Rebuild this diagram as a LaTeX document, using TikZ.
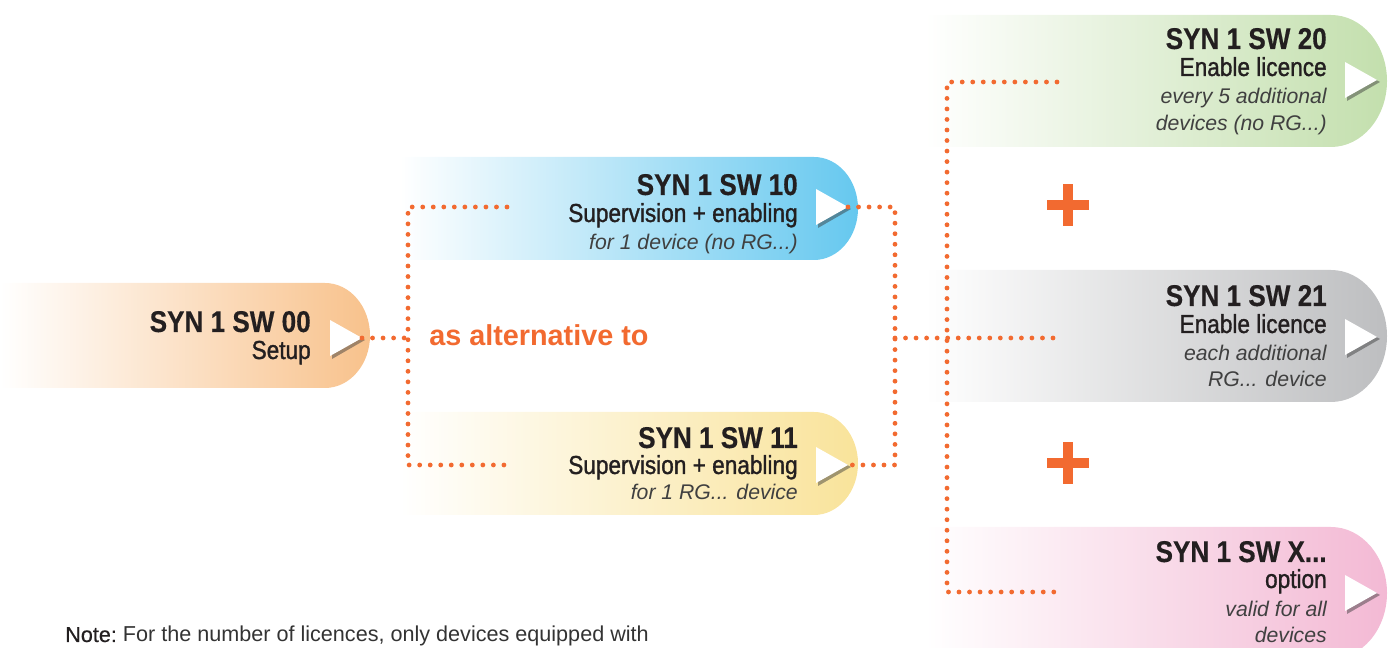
\documentclass[tikz,border=0pt]{standalone}
\usepackage{fontspec}
\setmainfont{Liberation Sans}
\newfontfamily\ttlfont[FakeStretch=0.87,FakeBold=0.4]{Liberation Sans}
\newfontfamily\subfont[FakeStretch=0.87,FakeBold=1.2]{Liberation Sans}
\newfontfamily\notebold[FakeBold=0.5]{Liberation Sans}
\usetikzlibrary{shadows}
\definecolor{ink}{HTML}{231F20}
\definecolor{itink}{HTML}{404040}
\definecolor{noteink}{HTML}{333333}
\definecolor{dotor}{HTML}{F26A30}
\definecolor{cor}{HTML}{F8C28C}
\definecolor{cblue}{HTML}{66C8EF}
\definecolor{cyel}{HTML}{F9E39A}
\definecolor{cgreen}{HTML}{C3DFAD}
\definecolor{cgray}{HTML}{BDBEC0}
\definecolor{cpink}{HTML}{F3B9D4}
\newcommand\mypill[6]{% x0, top, bottom, x1, rx, color
  \shade[left color=white,right color=#6] (#1,#3) -- (#1,#2) -- (#4,#2)
    arc[start angle=90,end angle=-90,x radius=#5,y radius={(#2-#3)/2}] -- cycle;}
\newcommand\mytri[1]{% named tip coordinate
  \fill[trishadow] ([shift={(-30,15)}]#1) -- ([shift={(3,-2)}]#1) -- ([shift={(-30,-21)}]#1) -- cycle;
  \fill[tri] ([shift={(-32,18)}]#1) -- (#1) -- ([shift={(-32,-18)}]#1) -- cycle;}
\begin{document}
\begin{tikzpicture}[x=0.75pt,y=0.75pt,
  ttl/.style={anchor=base east,inner sep=0pt,text=ink,font=\ttlfont\bfseries\fontsize{22.5}{26}\selectfont},
  sub/.style={anchor=base east,inner sep=0pt,text=ink,font=\subfont\fontsize{19.5}{23}\selectfont},
  itl/.style={anchor=base east,inner sep=0pt,text=itink,font=\itshape\fontsize{15.9}{19}\selectfont},
  tri/.style={fill=white},
  trishadow/.style={fill=black!80,opacity=0.45},
  dots/.style={draw=dotor,line width=3.6pt,line cap=round,dash pattern=on 0pt off 7.9pt},
  plusbar/.style={fill=dotor}]
\useasboundingbox (0,0) rectangle (1393,648);
\clip (0,0) rectangle (1393,648);

% boxes
\mypill{0}{365}{260}{325}{45}{cor}
\mypill{400}{491}{388}{814}{44}{cblue}
\mypill{400}{236}{133}{814}{44}{cyel}
\mypill{925}{633}{501}{1331}{56}{cgreen}
\mypill{925}{378}{246}{1331}{56}{cgray}
\mypill{925}{121}{-11}{1331}{56}{cpink}

% triangle tips
\coordinate (t00) at (362,310);
\coordinate (t10) at (848,441);
\coordinate (t11) at (848,183);
\coordinate (t20) at (1377,568);
\coordinate (t21) at (1377,311);
\coordinate (tx)  at (1377,55);
\mytri{t00}
\mytri{t10}
\mytri{t11}
\mytri{t20}
\mytri{t21}
\mytri{tx}

% connector points
\coordinate (la) at (408,441);
\coordinate (lm) at (408,310);
\coordinate (lb) at (408,183);
\coordinate (lae) at (507,441);
\coordinate (lbe) at (507,183);
\coordinate (ra) at (895,441);
\coordinate (rm) at (895,310);
\coordinate (rb) at (895,183);
\coordinate (fa) at (947,566);
\coordinate (fb) at (947,56);
\coordinate (fae) at (1057,566);
\coordinate (fme) at (1057,310);
\coordinate (fbe) at (1057,56);

\draw[dots] (t00) -- (lm);
\draw[dots] (lae) -- (la) -- (lb) -- (lbe);
\draw[dots] (t10) -- (ra) -- (rb) -- (t11);
\draw[dots] (rm) -- (fme);
\draw[dots] (fae) -- (fa) -- (fb) -- (fbe);

% plus signs
\fill[plusbar] (1047,438) rectangle (1089,448);
\fill[plusbar] (1063,422) rectangle (1073,464);
\fill[plusbar] (1047,180) rectangle (1089,190);
\fill[plusbar] (1063,164) rectangle (1073,206);

% texts
\node[ttl] (n00a) at (311,316) {SYN 1 SW 00};
\node[sub] (n00b) at (311,289) {Setup};

\node[ttl] (n10a) at (798,453) {SYN 1 SW 10};
\node[sub] (n10b) at (798,426) {Supervision + enabling};
\node[itl] (n10c) at (798,398) {for 1 device (no RG...)};

\node[ttl] (n11a) at (798,200) {SYN 1 SW 11};
\node[sub] (n11b) at (798,174) {Supervision + enabling};
\node[itl] (n11c) at (798,148) {for 1 RG... device};

\node[ttl] (n20a) at (1327,599) {SYN 1 SW 20};
\node[sub] (n20b) at (1327,572) {Enable licence};
\node[itl] (n20c) at (1327,544) {every 5 additional};
\node[itl] (n20d) at (1327,517) {devices (no RG...)};

\node[ttl] (n21a) at (1327,342) {SYN 1 SW 21};
\node[sub] (n21b) at (1327,315) {Enable licence};
\node[itl] (n21c) at (1327,287) {each additional};
\node[itl] (n21d) at (1327,261) {RG... device};

\node[ttl] (nxa) at (1327,86) {SYN 1 SW X...};
\node[sub] (nxb) at (1327,60) {option};
\node[itl] (nxc) at (1327,31) {valid for all};
\node[itl] (nxd) at (1327,5) {devices};

\node[anchor=base west,inner sep=0pt,text=dotor,font=\bfseries\fontsize{21.6}{25}\selectfont] (alt) at (429,302) {as alternative to};

\node[anchor=base west,inner sep=0pt,text=noteink,font=\fontsize{16.2}{19}\selectfont] (note) at (65,6) {\textcolor{ink}{\notebold Note:}\ For the number of licences, only devices equipped with};
\end{tikzpicture}
\end{document}
